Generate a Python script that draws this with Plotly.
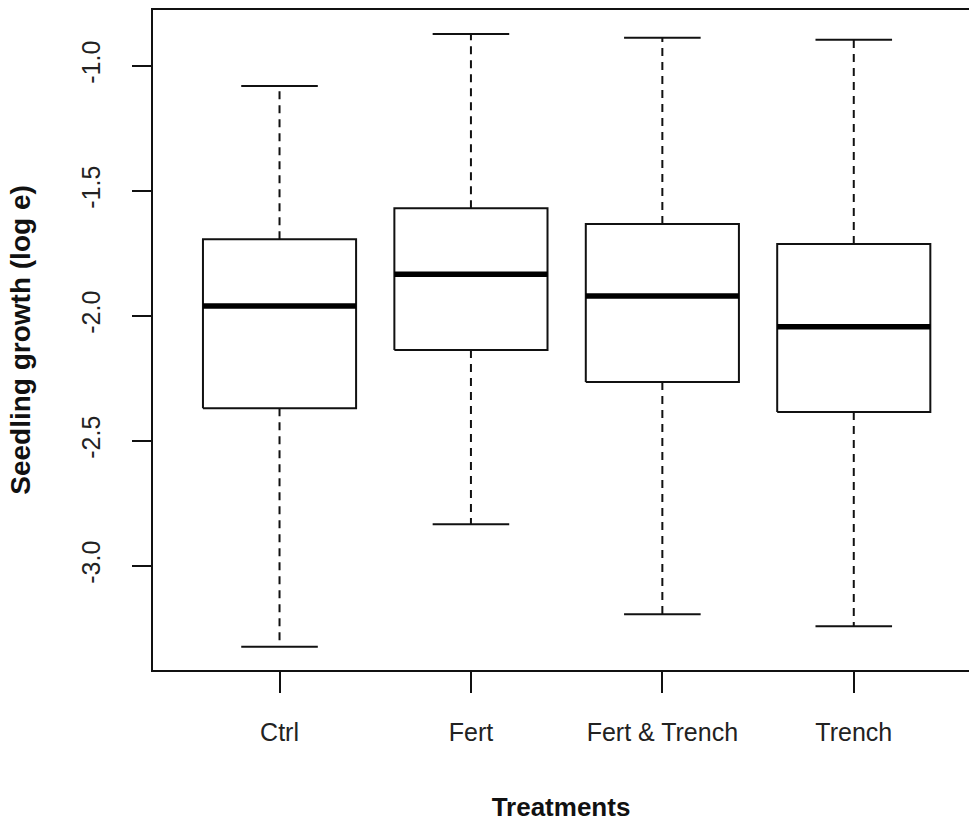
import plotly.graph_objects as go

# ---- data ----
categories = ["Ctrl", "Fert", "Fert & Trench", "Trench"]
lower_whisker = [-3.323, -2.833, -3.193, -3.241]
q1 = [-2.369, -2.136, -2.264, -2.384]
median = [-1.960, -1.833, -1.920, -2.043]
q3 = [-1.693, -1.569, -1.632, -1.712]
upper_whisker = [-1.080, -0.872, -0.887, -0.895]
y_ticks = [-1.0, -1.5, -2.0, -2.5, -3.0]
y_tick_labels = ["-1.0", "-1.5", "-2.0", "-2.5", "-3.0"]

positions = list(range(1, len(categories) + 1))
box_half = 0.4      # box width 0.8 (R default)
cap_half = 0.2      # staple half-width

box_x, box_y = [], []
med_x, med_y = [], []
wh_x, wh_y = [], []
cap_x, cap_y = [], []
for p, lo, a, m, b, hi in zip(positions, lower_whisker, q1, median, q3, upper_whisker):
    box_x += [p - box_half, p + box_half, p + box_half, p - box_half, p - box_half, None]
    box_y += [a, a, b, b, a, None]
    med_x += [p - box_half, p + box_half, None]
    med_y += [m, m, None]
    wh_x += [p, p, None, p, p, None]
    wh_y += [b, hi, None, a, lo, None]
    cap_x += [p - cap_half, p + cap_half, None, p - cap_half, p + cap_half, None]
    cap_y += [hi, hi, None, lo, lo, None]

ink = "#111111"
fig = go.Figure()
fig.add_trace(go.Scatter(x=wh_x, y=wh_y, mode="lines",
                         line=dict(color=ink, width=2, dash="8px,6px"), hoverinfo="skip"))
fig.add_trace(go.Scatter(x=cap_x, y=cap_y, mode="lines",
                         line=dict(color=ink, width=2), hoverinfo="skip"))
fig.add_trace(go.Scatter(x=box_x, y=box_y, mode="lines",
                         line=dict(color=ink, width=2), hoverinfo="skip"))
fig.add_trace(go.Scatter(x=med_x, y=med_y, mode="lines",
                         line=dict(color="#000000", width=5.5), hoverinfo="skip"))

font_family = "Liberation Sans, Arial, sans-serif"
fig.update_layout(
    width=969, height=822,
    margin=dict(l=153, r=0, t=10, b=152),
    paper_bgcolor="white", plot_bgcolor="white",
    showlegend=False,
    font=dict(family=font_family, color="#222222", size=25),
    xaxis=dict(
        range=[0.339, 4.602],
        tickmode="array", tickvals=positions, ticktext=categories,
        showgrid=False, zeroline=False,
        showline=True, linecolor=ink, linewidth=2, mirror=True,
        ticks="outside", ticklen=21, tickwidth=2, tickcolor=ink,
        ticklabelstandoff=18,
        tickfont=dict(size=25, family=font_family, color="#222222"),
        title=dict(text="<b>Treatments</b>", standoff=53,
                   font=dict(size=26, family=font_family, color="#111111")),
    ),
    yaxis=dict(
        range=[-3.416, -0.776],
        tickmode="array", tickvals=y_ticks, ticktext=y_tick_labels,
        showgrid=False, zeroline=False,
        showline=True, linecolor=ink, linewidth=2, mirror=False,
        ticks="outside", ticklen=19, tickwidth=2, tickcolor=ink,
        tickangle=-90, ticklabelstandoff=22,
        tickfont=dict(size=25, family=font_family, color="#222222"),
        title=dict(text="<b>Seedling growth (log e)</b>", standoff=38,
                   font=dict(size=28, family=font_family, color="#111111")),
    ),
)

fig.write_html("out.html")
